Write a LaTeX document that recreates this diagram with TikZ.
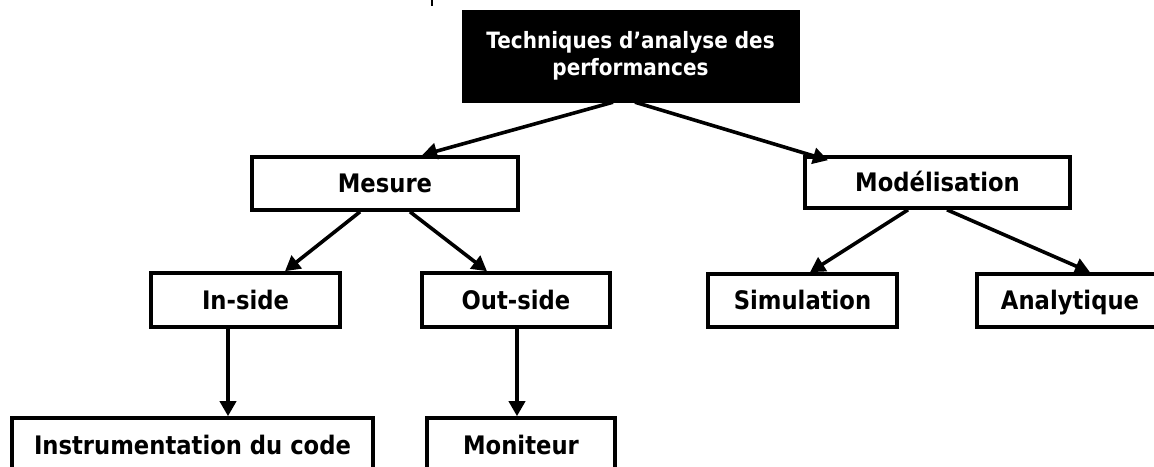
\documentclass[tikz,border=0pt]{standalone}
\usepackage{fontspec}
\setmainfont{DejaVu Sans}[FakeStretch=0.89]
\usetikzlibrary{arrows.meta}
\begin{document}
\begin{tikzpicture}[x=1pt,y=-1pt,
  box/.style={draw=black,line width=3.6pt,fill=white,inner sep=0pt,
    text height=18.5pt,text depth=0pt,
    font=\bfseries\fontsize{25.5}{30}\selectfont},
  rootbox/.style={draw=black,fill=black,text=white,inner sep=0pt,align=center,
    font=\bfseries\fontsize{22.5}{27}\selectfont},
  link/.style={line width=3.6pt,-{Triangle[length=15pt,width=16pt]}}]
\useasboundingbox (0,0) rectangle (1154,466);

% root of the tree
\node[rootbox,minimum width=337pt,minimum height=92pt] (root) at (630.5,56)
  {Techniques d’analyse des\\performances};

% second level
\node[box,minimum width=266pt,minimum height=53pt] (mesure) at (385,183.5) {Mesure};
\node[box,minimum width=265pt,minimum height=51pt] (model) at (937.5,182.5) {Modélisation};

% third level
\node[box,minimum width=189pt,minimum height=54pt] (inside) at (245.5,300) {In-side};
\node[box,minimum width=188pt,minimum height=54pt] (outside) at (516,300) {Out-side};
\node[box,minimum width=189pt,minimum height=53pt] (simu) at (802.5,300.5) {Simulation};
\node[box,minimum width=186pt,minimum height=53pt] (analy) at (1070,300.5) {Analytique};

% fourth level
\node[box,minimum width=361pt,minimum height=54pt] (instr) at (192.5,445) {Instrumentation du code};
\node[box,minimum width=188pt,minimum height=54pt] (monit) at (521,445) {Moniteur};

% connectors
\draw[link] ([xshift=-17.5pt]root.south) -- ([xshift=37pt]mesure.north);
\draw[link] ([xshift=4.5pt]root.south) -- ([xshift=-109.5pt,yshift=-5pt]model.north);
\draw[link] ([xshift=-25pt]mesure.south) -- ([xshift=39.5pt]inside.north);
\draw[link] ([xshift=25pt]mesure.south) -- ([xshift=-29pt]outside.north);
\draw[link] ([xshift=-29.5pt]model.south) -- ([xshift=7.5pt]simu.north);
\draw[link] ([xshift=9.5pt]model.south) -- ([xshift=20pt]analy.north);
\draw[link] ([xshift=-17.5pt]inside.south) -- ([xshift=-17.5pt]inside.south |- instr.north);
\draw[link] ([xshift=1pt]outside.south) -- ([xshift=1pt]outside.south |- monit.north);

% stray stroke at the top edge
\draw[line width=2.5pt] (432,0) -- (432,6);
\end{tikzpicture}
\end{document}
